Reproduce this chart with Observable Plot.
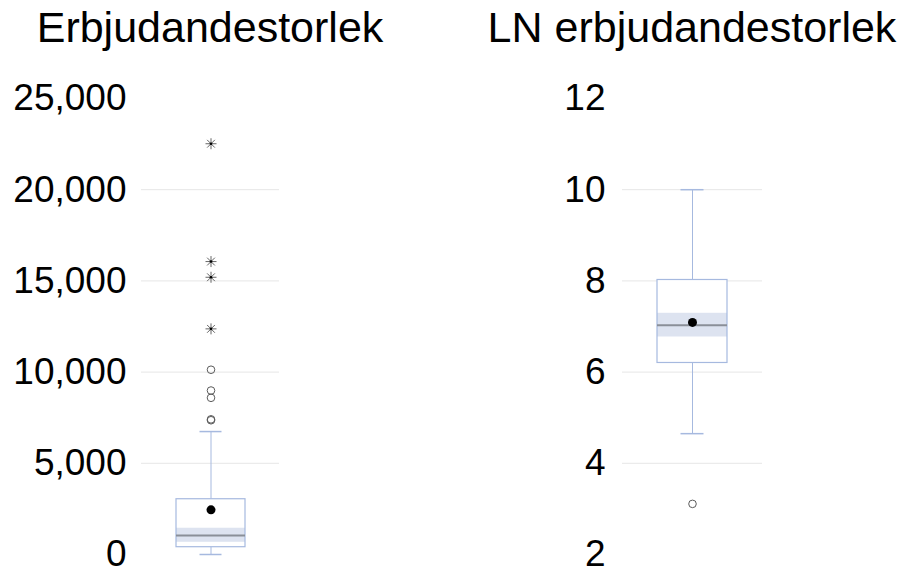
<!DOCTYPE html>
<html>
<head>
<meta charset="utf-8">
<script src="https://cdn.jsdelivr.net/npm/d3@7"></script>
<script src="https://cdn.jsdelivr.net/npm/@observablehq/plot@0.6"></script>
<style>
  html, body { margin: 0; padding: 0; background: #fff; }
  #chart { position: relative; width: 903px; height: 573px; overflow: hidden;
           font-family: "Liberation Sans", Arial, sans-serif; }
  .panel { position: absolute; top: 0; }
  .title { position: absolute; top: 7px; transform: translateX(-50%); white-space: nowrap;
           font-size: 43px; line-height: 40px; color: #000; }
</style>
</head>
<body>
<div id="chart"></div>
<script>
// Box-plot summaries for the two variables
const panels      = ["Erbjudandestorlek", "LN erbjudandestorlek"];
const q1          = [400, 6.2];
const median      = [1040, 7.03];
const q3          = [3030, 8.02];
const ciLow       = [670, 6.77];
const ciHigh      = [1440, 7.29];
const mean        = [2450, 7.09];
const whiskerLow  = [0, 4.65];
const whiskerHigh = [6740, 10.0];
const outliers    = [[7360, 7410, 8590, 8990, 10130], [3.11]];
const extremes    = [[12370, 15200, 16060, 22520], []];

// Axis ticks and gridlines
const yTicks   = [[0, 5000, 10000, 15000, 20000, 25000], [2, 4, 6, 8, 10, 12]];
const gridVals = [[5000, 10000, 15000, 20000], [4, 6, 8, 10]];
const tickFmt  = [d3.format(","), d3.format("d")];

// Eight-spoke asterisk for far outliers
const asterisk8 = {
  draw(ctx, size) {
    const r = Math.sqrt(size / Math.PI);
    const d = r * Math.SQRT1_2;
    ctx.moveTo(-r, 0); ctx.lineTo(r, 0);
    ctx.moveTo(0, -r); ctx.lineTo(0, r);
    ctx.moveTo(-d, -d); ctx.lineTo(d, d);
    ctx.moveTo(-d, d); ctx.lineTo(d, -d);
  }
};

const layout = [
  {left: 0,   width: 450, marginLeft: 141, marginRight: 171, tickPadding: 15, titleX: 210},
  {left: 450, width: 453, marginLeft: 172, marginRight: 141, tickPadding: 17, titleX: 692}
];

const blue = "#a6b9df";
const chart = document.getElementById("chart");

panels.forEach((name, i) => {
  const L = layout[i];
  const stat = [{
    panel: name, q1: q1[i], median: median[i], q3: q3[i],
    ciLow: ciLow[i], ciHigh: ciHigh[i], mean: mean[i],
    lo: whiskerLow[i], hi: whiskerHigh[i]
  }];
  const out = outliers[i].map(v => ({panel: name, v}));
  const ext = extremes[i].map(v => ({panel: name, v}));
  const ticks = yTicks[i];

  const svg = Plot.plot({
    width: L.width,
    height: 573,
    marginTop: 98,
    marginBottom: 19,
    marginLeft: L.marginLeft,
    marginRight: L.marginRight,
    style: {fontFamily: "'Liberation Sans', Arial, sans-serif", color: "#000", background: "transparent"},
    x: {type: "band", domain: [name], paddingInner: 0, paddingOuter: 0.5, axis: null},
    y: {domain: [ticks[0], ticks[ticks.length - 1]]},
    marks: [
      Plot.ruleY(gridVals[i], {stroke: "#e6e6e6", strokeWidth: 1}),
      Plot.axisY({ticks, tickFormat: tickFmt[i], tickSize: 0, tickPadding: L.tickPadding,
                  fontSize: 37, label: null}),
      Plot.ruleX(stat, {x: "panel", y1: "q3", y2: "hi", stroke: blue, strokeWidth: 1}),
      Plot.ruleX(stat, {x: "panel", y1: "lo", y2: "q1", stroke: blue, strokeWidth: 1}),
      Plot.tickY(stat, {x: "panel", y: "hi", stroke: blue, strokeWidth: 1.5, inset: 23.5}),
      Plot.tickY(stat, {x: "panel", y: "lo", stroke: blue, strokeWidth: 1.5, inset: 23.5}),
      Plot.barY(stat, {x: "panel", y1: "q1", y2: "q3", fill: "#fff", stroke: "none"}),
      Plot.barY(stat, {x: "panel", y1: "ciLow", y2: "ciHigh", fill: "#dde3f0"}),
      Plot.barY(stat, {x: "panel", y1: "q1", y2: "q3", fill: "none", stroke: blue, strokeWidth: 1.2}),
      Plot.tickY(stat, {x: "panel", y: "median", stroke: "#8a8f98", strokeWidth: 2}),
      Plot.dot(out, {x: "panel", y: "v", r: 3.8, fill: "none", stroke: "#5a5a5a", strokeWidth: 1}),
      Plot.dot(ext, {x: "panel", y: "v", r: 5.5, symbol: asterisk8, fill: "none", stroke: "#666", strokeWidth: 1}),
      Plot.dot(ext, {x: "panel", y: "v", r: 1.3, fill: "#000", stroke: "none"}),
      Plot.dot(stat, {x: "panel", y: "mean", r: 4.5, fill: "#000", stroke: "none"})
    ]
  });
  svg.classList.add("panel");
  svg.style.left = L.left + "px";
  chart.appendChild(svg);

  const title = document.createElement("div");
  title.className = "title";
  title.style.left = L.titleX + "px";
  title.textContent = name;
  chart.appendChild(title);
});
</script>
</body>
</html>
